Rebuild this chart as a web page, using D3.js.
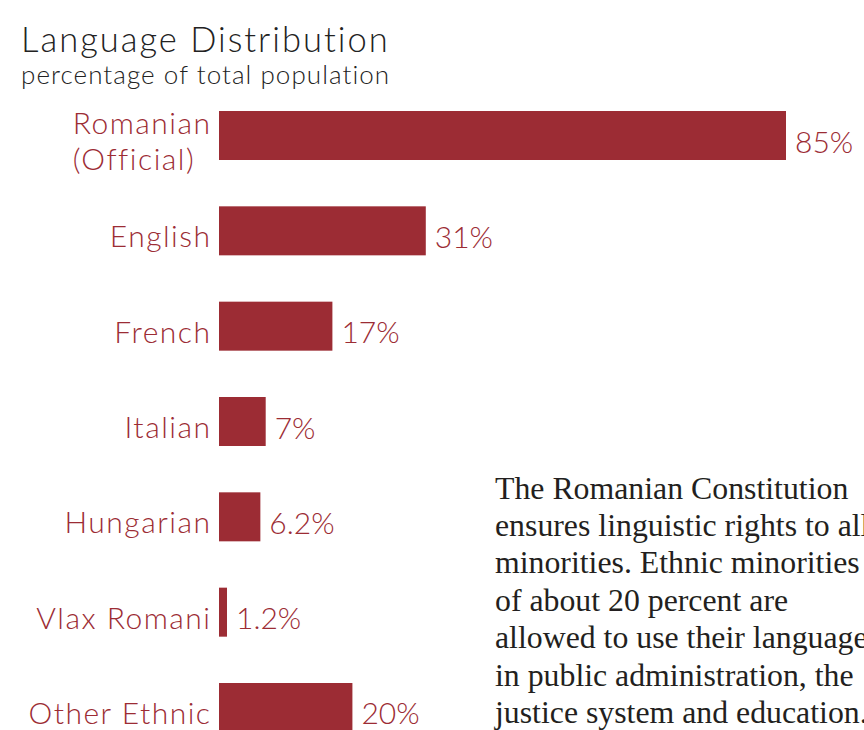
<!DOCTYPE html>
<html>
<head>
<meta charset="utf-8">
<script src="https://cdn.jsdelivr.net/npm/d3@7/dist/d3.min.js"></script>
<style>
  html, body { margin: 0; padding: 0; background: #fff; overflow: hidden; }
  svg { display: block; }
  .sans { font-family: "Lato", "Open Sans", sans-serif; font-weight: 300; }
  .serif { font-family: "Liberation Serif", "DejaVu Serif", serif; }
</style>
</head>
<body>
<svg id="chart" width="864" height="730"></svg>
<script>
const categories = ["Romanian (Official)", "English", "French", "Italian", "Hungarian", "Vlax Romani", "Other Ethnic"];
const categoryLines = [["Romanian", "(Official)"], ["English"], ["French"], ["Italian"], ["Hungarian"], ["Vlax Romani"], ["Other Ethnic"]];
const values = [85, 31, 17, 7, 6.2, 1.2, 20];
const valueLabels = ["85%", "31%", "17%", "7%", "6.2%", "1.2%", "20%"];
const titleText = "Language Distribution";
const subtitleText = "percentage of total population";
const noteLines = [
  "The Romanian Constitution",
  "ensures linguistic rights to all",
  "minorities. Ethnic minorities",
  "of about 20 percent are",
  "allowed to use their languages",
  "in public administration, the",
  "justice system and education."
];

const RED = "#9c2c34";
const svg = d3.select("#chart");

const x = d3.scaleLinear().domain([0, 85]).range([219, 786]);
const y = d3.scaleBand().domain(categories).range([111, 732]).paddingInner(0.486).paddingOuter(0);

svg.append("text").attr("class", "sans").attr("x", 21).attr("y", 52)
  .attr("font-size", 34.5).attr("letter-spacing", 2.0).attr("fill", "#222").text(titleText);
svg.append("text").attr("class", "sans").attr("x", 21).attr("y", 84)
  .attr("font-size", 26).attr("letter-spacing", 1.05).attr("fill", "#222").text(subtitleText);

svg.selectAll("rect.bar").data(categories).enter().append("rect")
  .attr("class", "bar")
  .attr("x", x(0))
  .attr("y", d => y(d))
  .attr("width", (d, i) => x(values[i]) - x(0))
  .attr("height", y.bandwidth())
  .attr("fill", RED);

svg.selectAll("text.val").data(categories).enter().append("text")
  .attr("class", "val sans")
  .attr("x", (d, i) => x(values[i]) + 9)
  .attr("y", d => y(d) + y.bandwidth() / 2 + 17)
  .attr("font-size", 30)
  .attr("fill", RED)
  .text((d, i) => valueLabels[i]);

const LS = 1.5;
categories.forEach((c, i) => {
  const lines = categoryLines[i];
  const lh = 36;
  const base = y(c) + y.bandwidth() / 2 + 16.5 - (lines.length - 1) * lh / 2;
  const t = svg.append("text").attr("class", "sans").attr("font-size", 30)
    .attr("letter-spacing", LS).attr("fill", RED);
  const first = t.append("tspan").attr("x", 0).attr("y", base).text(lines[0]);
  const w = first.node().getComputedTextLength();
  const startX = 210 - w + LS;
  first.attr("x", startX);
  lines.slice(1).forEach((ln, j) => {
    t.append("tspan").attr("x", startX).attr("y", base + (j + 1) * lh).text(ln);
  });
});

const note = svg.append("text").attr("class", "serif").attr("font-size", 31.8).attr("fill", "#231f20");
noteLines.forEach((ln, i) => {
  note.append("tspan").attr("x", 495).attr("y", 498.5 + i * 37.4).text(ln);
});
</script>
</body>
</html>
